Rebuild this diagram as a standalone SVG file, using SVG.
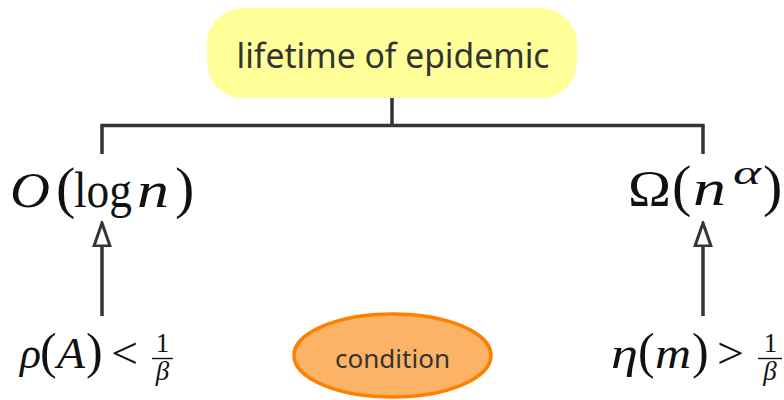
<svg xmlns="http://www.w3.org/2000/svg" width="784" height="400" viewBox="0 0 784 400">
  <style>
    .label { font-family: "Noto Sans", "Open Sans", "DejaVu Sans", sans-serif; fill: #333333; }
    .math { font-family: "Liberation Serif", "DejaVu Serif", serif; fill: #111111; }
    .it { font-style: italic; }
    .conn { fill: none; stroke: #353535; stroke-width: 3.5; }
    .arrow { fill: none; stroke: #353535; stroke-width: 3.5; marker-end: url(#hollow); }
  </style>
  <defs>
    <marker id="hollow" viewBox="0 0 26 20" refX="1" refY="10" markerWidth="26" markerHeight="20" markerUnits="userSpaceOnUse" orient="auto">
      <path d="M1,2 L24,10 L1,18 Z" fill="#ffffff" stroke="#353535" stroke-width="3" stroke-linejoin="miter"/>
    </marker>
  </defs>
  <rect width="784" height="400" fill="#ffffff"/>

  <g id="connectors">
    <path class="conn" d="M392,98 V125.5 M100.5,125.5 H704.5 M102,124 V154 M703,124 V154"/>
    <path class="arrow" d="M102,316 V246"/>
    <path class="arrow" d="M703,316 V246"/>
  </g>

  <g id="node-lifetime">
    <rect x="207" y="8" width="370" height="90" rx="36" ry="36" fill="#FFFF99"/>
    <text class="label" x="393" y="68" font-size="34" text-anchor="middle" textLength="313" lengthAdjust="spacingAndGlyphs">lifetime of epidemic</text>
  </g>

  <g id="node-ologn">
    <text class="math" y="207" font-size="50"><tspan class="it" x="10" textLength="40" lengthAdjust="spacingAndGlyphs">O</tspan><tspan x="56" font-size="58">(</tspan><tspan x="74" textLength="58" lengthAdjust="spacingAndGlyphs">log</tspan><tspan class="it" x="137" textLength="32" lengthAdjust="spacingAndGlyphs">n</tspan><tspan x="175" font-size="58">)</tspan></text>
  </g>

  <g id="node-omega">
    <text class="math" y="205" font-size="50"><tspan x="628" textLength="43" lengthAdjust="spacingAndGlyphs">Ω</tspan><tspan x="672" font-size="58">(</tspan><tspan class="it" x="693" textLength="33" lengthAdjust="spacingAndGlyphs">n</tspan><tspan class="it" x="733" y="184" font-size="34" textLength="28" lengthAdjust="spacingAndGlyphs">α</tspan><tspan x="763" y="205" font-size="58">)</tspan></text>
  </g>

  <g id="node-rho">
    <text class="math" y="368" font-size="44"><tspan class="it" x="20" textLength="21" lengthAdjust="spacingAndGlyphs">ρ</tspan><tspan x="40" font-size="50">(</tspan><tspan class="it" x="57" textLength="28" lengthAdjust="spacingAndGlyphs">A</tspan><tspan x="86" font-size="50">)</tspan><tspan x="111" textLength="27" lengthAdjust="spacingAndGlyphs">&lt;</tspan></text>
    <text class="math" x="162.5" y="352" font-size="27" text-anchor="middle">1</text>
    <line x1="152" y1="358.5" x2="173" y2="358.5" stroke="#111111" stroke-width="1.4"/>
    <text class="math it" x="162.5" y="380" font-size="27" text-anchor="middle">β</text>
  </g>

  <g id="node-eta">
    <text class="math" y="368" font-size="44"><tspan class="it" x="611" textLength="27" lengthAdjust="spacingAndGlyphs">η</tspan><tspan x="638" font-size="50">(</tspan><tspan class="it" x="655" textLength="36" lengthAdjust="spacingAndGlyphs">m</tspan><tspan x="692" font-size="50">)</tspan><tspan x="717" textLength="27" lengthAdjust="spacingAndGlyphs">&gt;</tspan></text>
    <text class="math" x="770.5" y="352" font-size="27" text-anchor="middle">1</text>
    <line x1="758" y1="358.5" x2="782" y2="358.5" stroke="#111111" stroke-width="1.4"/>
    <text class="math it" x="770" y="380" font-size="27" text-anchor="middle">β</text>
  </g>

  <g id="node-condition">
    <ellipse cx="392.5" cy="355.5" rx="98.5" ry="41.5" fill="#FDB366" stroke="#FF8000" stroke-width="3.5"/>
    <text class="label" x="392.5" y="368" font-size="25" text-anchor="middle" textLength="115" lengthAdjust="spacingAndGlyphs">condition</text>
  </g>
</svg>
